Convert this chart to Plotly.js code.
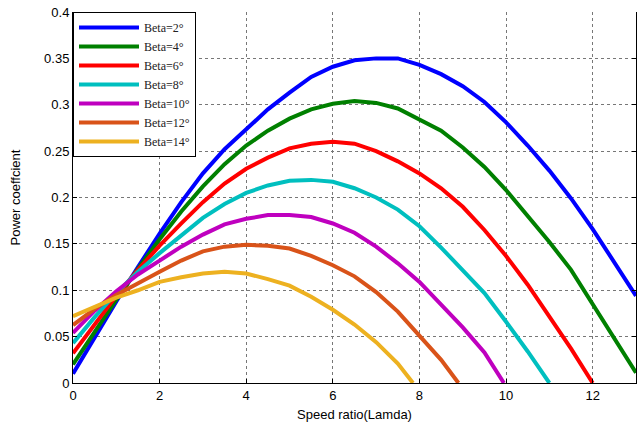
<!DOCTYPE html>
<html>
<head>
<meta charset="utf-8">
<script src="https://cdn.plot.ly/plotly-3.0.1.min.js"></script>
<style>html,body{margin:0;padding:0;background:#fff;}#chart{width:638px;height:427px;}</style>
</head>
<body>
<div id="chart"></div>
<script>
// Speed ratio (lambda) sample points
var lambdaB2  = [0,0.5,1,1.5,2,2.5,3,3.5,4,4.5,5,5.5,6,6.5,7,7.5,8,8.5,9,9.5,10,10.5,11,11.5,12,12.5,13];
var cpB2      = [0.010,0.050,0.088,0.125,0.161,0.195,0.226,0.252,0.274,0.295,0.313,0.330,0.341,0.348,0.350,0.350,0.343,0.333,0.320,0.303,0.281,0.256,0.229,0.199,0.166,0.130,0.094];

var lambdaB4  = [0,0.5,1,1.5,2,2.5,3,3.5,4,4.5,5,5.5,6,6.5,7,7.5,8,8.5,9,9.5,10,10.5,11,11.5,12,12.5,13];
var cpB4      = [0.020,0.055,0.090,0.123,0.155,0.185,0.212,0.236,0.256,0.272,0.285,0.295,0.301,0.304,0.302,0.296,0.284,0.272,0.254,0.233,0.208,0.180,0.152,0.122,0.085,0.048,0.011];

var lambdaB6  = [0,0.5,1,1.5,2,2.5,3,3.5,4,4.5,5,5.5,6,6.5,7,7.5,8,8.5,9,9.5,10,10.5,11,11.5,12];
var cpB6      = [0.032,0.063,0.094,0.122,0.148,0.172,0.195,0.215,0.231,0.243,0.253,0.258,0.260,0.258,0.250,0.239,0.226,0.210,0.190,0.165,0.137,0.106,0.072,0.037,0.000];

var lambdaB8  = [0,0.5,1,1.5,2,2.5,3,3.5,4,4.5,5,5.5,6,6.5,7,7.5,8,8.5,9,9.5,10,10.5,11];
var cpB8      = [0.043,0.071,0.097,0.120,0.140,0.159,0.178,0.193,0.205,0.213,0.218,0.219,0.217,0.210,0.200,0.187,0.169,0.146,0.121,0.097,0.066,0.034,0.000];

var lambdaB10 = [0,0.5,1,1.5,2,2.5,3,3.5,4,4.5,5,5.5,6,6.5,7,7.5,8,8.5,9,9.5,9.95];
var cpB10     = [0.054,0.078,0.099,0.117,0.132,0.147,0.160,0.171,0.177,0.181,0.181,0.179,0.172,0.162,0.147,0.129,0.109,0.084,0.060,0.033,0.000];

var lambdaB12 = [0,0.5,1,1.5,2,2.5,3,3.5,4,4.5,5,5.5,6,6.5,7,7.5,8,8.5,8.9];
var cpB12     = [0.0625,0.080,0.095,0.108,0.120,0.132,0.142,0.147,0.149,0.148,0.145,0.137,0.127,0.115,0.098,0.077,0.051,0.025,0.000];

var lambdaB14 = [0,0.5,1,1.5,2,2.5,3,3.5,4,4.5,5,5.5,6,6.5,7,7.5,7.85];
var cpB14     = [0.072,0.082,0.092,0.100,0.109,0.114,0.118,0.120,0.118,0.112,0.105,0.093,0.079,0.063,0.044,0.021,0.000];

var seriesNames = ['Beta=2°','Beta=4°','Beta=6°','Beta=8°','Beta=10°','Beta=12°','Beta=14°'];
var seriesColors = ['#0000FF','#008000','#FF0000','#00BFBF','#BF00BF','#D95319','#EDB120'];
var xs = [lambdaB2,lambdaB4,lambdaB6,lambdaB8,lambdaB10,lambdaB12,lambdaB14];
var ys = [cpB2,cpB4,cpB6,cpB8,cpB10,cpB12,cpB14];

var xTicks = [0,2,4,6,8,10,12];
var yTicks = [0,0.05,0.1,0.15,0.2,0.25,0.3,0.35,0.4];
var yTickText = ['0','0.05','0.1','0.15','0.2','0.25','0.3','0.35','0.4'];

var traces = [];
for (var i = 0; i < xs.length; i++) {
  traces.push({x: xs[i], y: ys[i], type: 'scatter', mode: 'lines', name: seriesNames[i],
    line: {color: seriesColors[i], width: 4}});
}

var layout = {
  width: 638, height: 427,
  margin: {l: 73, r: 2, t: 12, b: 44},
  paper_bgcolor: '#fff', plot_bgcolor: '#fff',
  font: {family: 'Liberation Sans, Arial, sans-serif', size: 13, color: '#000'},
  showlegend: true,
  legend: {x: 0, y: 1, xanchor: 'left', yanchor: 'top', bgcolor: '#fff',
    bordercolor: '#000', borderwidth: 1,
    font: {family: 'Liberation Serif, Times New Roman, serif', size: 12, color: '#222'},
    tracegroupgap: 0, itemwidth: 60},
  xaxis: {range: [0, 13], tickvals: xTicks, ticktext: xTicks.map(String),
    ticks: 'inside', ticklen: 4, tickcolor: '#000', showline: true, linecolor: '#000', linewidth: 1,
    showgrid: true, gridcolor: '#777', griddash: 'dot', gridwidth: 1, zeroline: false,
    title: {text: 'Speed ratio(Lamda)', font: {size: 13}, standoff: 8},
    tickfont: {size: 13}},
  yaxis: {range: [0, 0.4], tickvals: yTicks, ticktext: yTickText,
    ticks: 'inside', ticklen: 4, tickcolor: '#000', showline: true, linecolor: '#000', linewidth: 1,
    mirror: 'ticks',
    showgrid: true, gridcolor: '#777', griddash: 'dot', gridwidth: 1, zeroline: false,
    title: {text: 'Power coeffcient', font: {size: 13}, standoff: 20},
    tickfont: {size: 13}}
};

Plotly.newPlot('chart', traces, layout, {displayModeBar: false, staticPlot: true});
</script>
</body>
</html>
